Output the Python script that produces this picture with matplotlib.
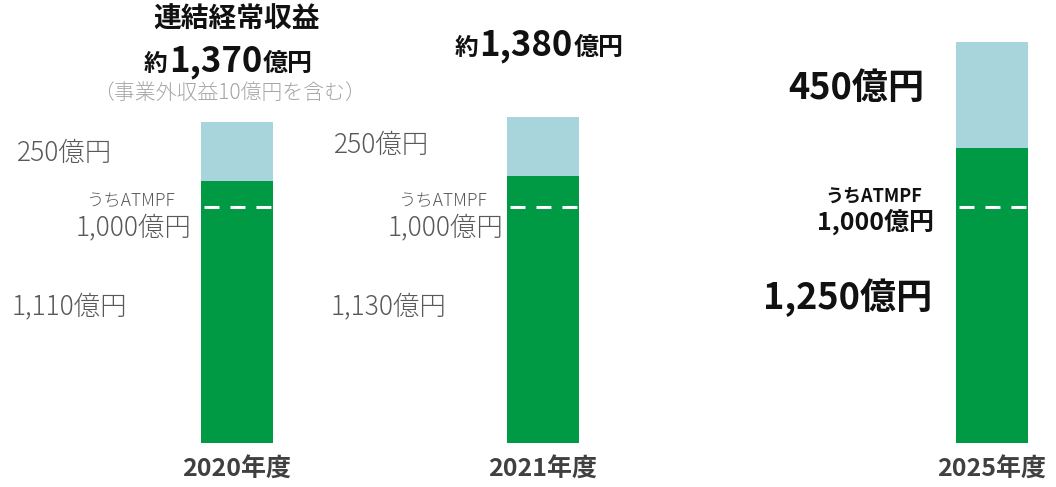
import matplotlib
matplotlib.use("Agg")
import matplotlib.pyplot as plt

plt.rcParams['font.family'] = ['Noto Sans CJK JP', 'DejaVu Sans']

# Data
years = ['2020年度', '2021年度', '2025年度']
atm_values = [1110, 1130, 1250]      # green part
other_values = [250, 250, 450]       # light blue part
totals = ['1,370', '1,380']
atmpf = 1000                          # dashed line

GREEN = '#009A44'
BLUE = '#A8D5DC'
GRAY = '#595959'
BLACK = '#111111'

W, H = 1056, 487
fig = plt.figure(figsize=(W / 100, H / 100), dpi=100)
ax = fig.add_axes([0, 44 / H, 1, 443 / H])
ax.set_xlim(0, W)
ax.set_ylim(0, 443 / 0.236)
ax.axis('off')

xpos = [236.5, 543, 992]
bw = 72

ax.bar(xpos, atm_values, width=bw, color=GREEN)
ax.bar(xpos, other_values, width=bw, bottom=atm_values, color=BLUE)
for x in xpos:
    ax.hlines(atmpf, x - bw / 2 + 3, x + bw / 2, colors='white', lw=2.2,
              linestyles=(0, (4.9, 3.6)))

renderer = fig.canvas.get_renderer()


def txt(x, y, s, **kw):
    # x, y in pixels from top-left
    return fig.text(x / W, 1 - y / H, s, va='center', **kw)


def pieces(x, base_y, parts):
    # left-to-right text parts on one baseline, x = left edge in pixels
    for s, size in parts:
        t = fig.text(x / W, 1 - base_y / H, s, fontsize=size, weight='bold',
                     color=BLACK, va='baseline', ha='left')
        x += t.get_window_extent(renderer).width + 1


# 2020
txt(237, 20, '連結経常収益', ha='center', fontsize=20, weight='bold', color=BLACK)
pieces(144, 71, [('約', 17), (totals[0], 25), ('億円', 18)])
txt(230, 93, '（事業外収益10億円を含む）', ha='center', fontsize=15, color='#A6A6A6', weight='light')
txt(17, 153, f'{other_values[0]}億円', ha='left', fontsize=19, color=GRAY, weight='light')
txt(176, 201, 'うちATMPF', ha='right', fontsize=12.5, color=GRAY, weight='light')
txt(191, 227, f'{atmpf:,}億円', ha='right', fontsize=19, color=GRAY, weight='light')
txt(12, 306, f'{atm_values[0]:,}億円', ha='left', fontsize=19, color=GRAY, weight='light')

# 2021
pieces(455, 55, [('約', 17), (totals[1], 25), ('億円', 18)])
txt(334, 145, f'{other_values[1]}億円', ha='left', fontsize=19, color=GRAY, weight='light')
txt(488, 201, 'うちATMPF', ha='right', fontsize=12.5, color=GRAY, weight='light')
txt(503, 227, f'{atmpf:,}億円', ha='right', fontsize=19, color=GRAY, weight='light')
txt(331, 306, f'{atm_values[1]:,}億円', ha='left', fontsize=19, color=GRAY, weight='light')

# 2025
txt(924, 88, f'{other_values[2]}億円', ha='right', fontsize=26, weight='bold', color=BLACK)
txt(922, 196, 'うちATMPF', ha='right', fontsize=13, weight='bold', color=BLACK)
txt(934, 222, f'{atmpf:,}億円', ha='right', fontsize=18, weight='bold', color=BLACK)
txt(932, 298, f'{atm_values[2]:,}億円', ha='right', fontsize=26, weight='bold', color=BLACK)

# year labels
for x, y in zip(xpos, years):
    txt(x, 470, y, ha='center', fontsize=18, weight='bold', color='#404040')

fig.savefig('out.png', dpi=100)
